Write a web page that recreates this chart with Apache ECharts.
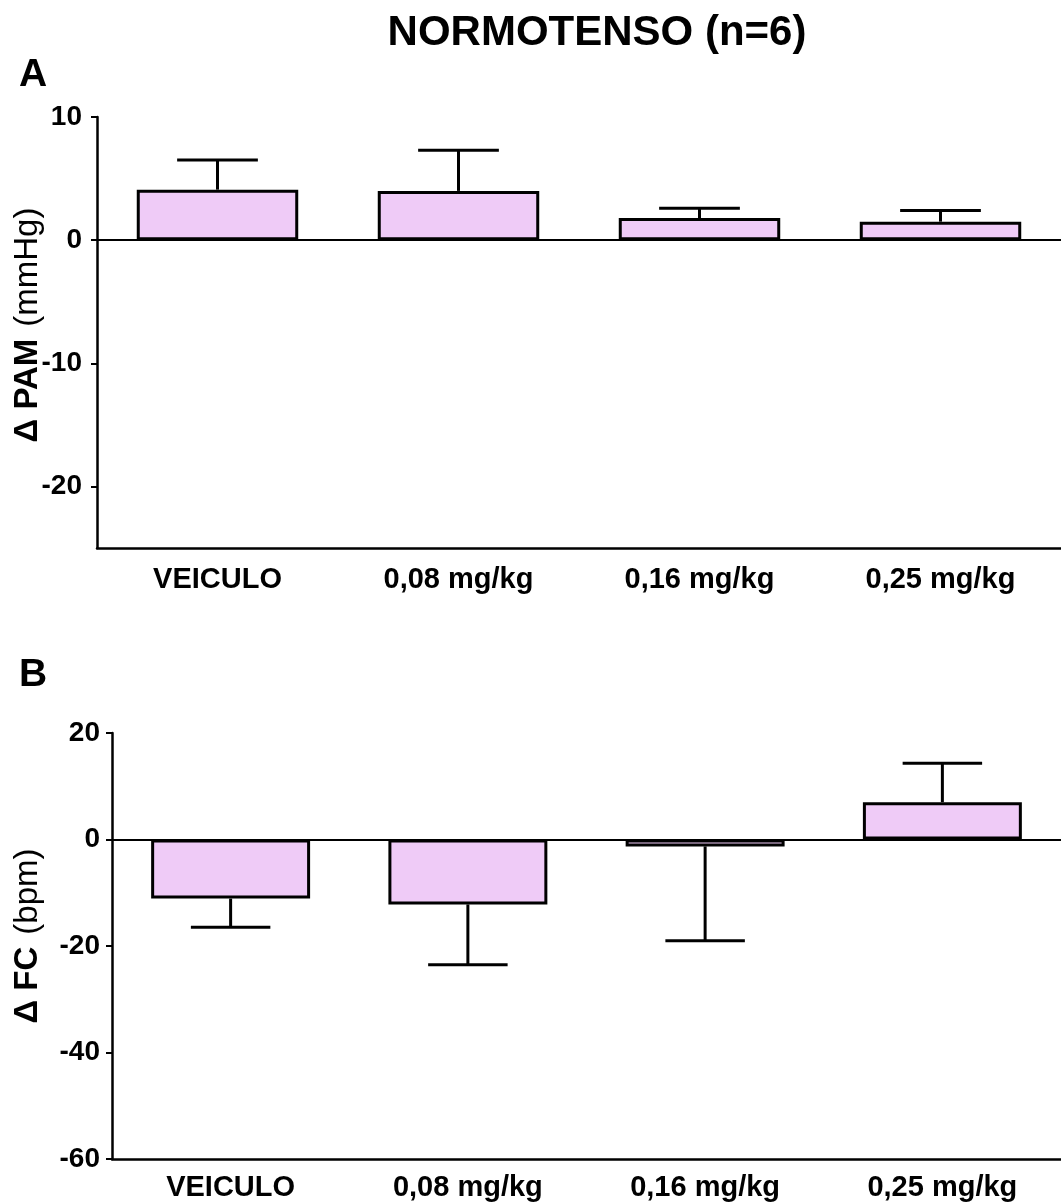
<!DOCTYPE html>
<html>
<head>
<meta charset="utf-8">
<script src="https://cdn.jsdelivr.net/npm/echarts@6/dist/echarts.min.js"></script>
<style>
html,body{margin:0;padding:0;background:#fff;}
#c{width:1061px;height:1204px;}
</style>
</head>
<body>
<div id="c"></div>
<script>
const categories = ['VEICULO', '0,08 mg/kg', '0,16 mg/kg', '0,25 mg/kg'];
const pamMean = [4.1, 4.0, 1.8, 1.5];
const pamSem = [2.4, 3.3, 0.8, 0.9];
const fcMean = [-11.1, -12.2, -1.3, 7.0];
const fcSem = [5.4, 11.3, 17.7, 7.3];
const pamTicks = [-20, -10, 0, 10];
const fcTicks = [-60, -40, -20, 0, 20];

const FONT = '"Liberation Sans", Arial, sans-serif';
const FILL = '#EFCBF7';

const chart = echarts.init(document.getElementById('c'), null, {renderer: 'canvas'});

function errSeries(idx, means, sems) {
  return {
    type: 'custom',
    xAxisIndex: idx, yAxisIndex: idx,
    z: 5,
    data: means.map((m, i) => [i, m, m >= 0 ? m + sems[i] : m - sems[i]]),
    renderItem: function (params, api) {
      const x = api.value(0);
      const p0 = api.coord([x, api.value(1)]);
      const p1 = api.coord([x, api.value(2)]);
      const bw = api.size([1, 0])[0] * 0.67;
      const half = bw / 4;
      const st = {stroke: '#000', lineWidth: 3};
      return {
        type: 'group',
        children: [
          {type: 'line', shape: {x1: p0[0], y1: p0[1], x2: p1[0], y2: p1[1]}, style: st},
          {type: 'line', shape: {x1: p1[0] - half, y1: p1[1], x2: p1[0] + half, y2: p1[1]}, style: st}
        ]
      };
    }
  };
}

function barSeries(idx, means) {
  return {
    type: 'bar',
    xAxisIndex: idx, yAxisIndex: idx,
    barWidth: '67%',
    data: means,
    itemStyle: {color: FILL, borderColor: '#000', borderWidth: 3},
    z: 3,
    markLine: {
      silent: true,
      symbol: 'none',
      label: {show: false},
      lineStyle: {color: '#000', width: 2, type: 'solid'},
      data: [{yAxis: 0}],
      z: 4
    }
  };
}

function xAxis(idx, margin) {
  return {
    type: 'category',
    gridIndex: idx,
    data: categories,
    position: 'bottom',
    axisLine: {onZero: false, lineStyle: {color: '#000', width: 2.5}},
    axisTick: {alignWithLabel: true, length: 6, lineStyle: {color: '#000', width: 2}},
    axisLabel: {color: '#000', fontFamily: FONT, fontWeight: 'bold', fontSize: 29, margin: margin},
    splitLine: {show: false}
  };
}

function yAxis(idx, min, max, ticks, margin) {
  return {
    type: 'value',
    gridIndex: idx,
    min: min, max: max,
    axisLine: {show: true, onZero: false, lineStyle: {color: '#000', width: 2.5}},
    axisTick: {show: true, length: 6, customValues: ticks, lineStyle: {color: '#000', width: 2}},
    axisLabel: {color: '#000', fontFamily: FONT, fontWeight: 'bold', fontSize: 28, margin: margin, customValues: ticks},
    splitLine: {show: false}
  };
}

function axisTitle(x, y, bold, normal) {
  return {
    type: 'text',
    x: x, y: y,
    rotation: Math.PI / 2,
    style: {
      text: '{b|' + bold + '}{n|' + normal + '}',
      align: 'center',
      verticalAlign: 'middle',
      rich: {
        b: {fontFamily: FONT, fontWeight: 'bold', fontSize: 33, fill: '#000', padding: [0, 12, 0, 0]},
        n: {fontFamily: FONT, fontWeight: 'normal', fontSize: 33, fill: '#000'}
      }
    }
  };
}

const option = {
  backgroundColor: '#fff',
  animation: false,
  grid: [
    {left: 97, top: 117, width: 971, height: 431},
    {left: 112, top: 733, width: 957, height: 426}
  ],
  xAxis: [xAxis(0, 17), xAxis(1, 14)],
  yAxis: [
    yAxis(0, -25, 10, pamTicks, 15),
    yAxis(1, -60, 20, fcTicks, 12)
  ],
  graphic: [
    {type: 'text', x: 597, y: 33, style: {text: 'NORMOTENSO (n=6)', font: 'bold 42px ' + FONT, fill: '#000', align: 'center', verticalAlign: 'middle'}},
    {type: 'text', x: 33, y: 75, style: {text: 'A', font: 'bold 39px ' + FONT, fill: '#000', align: 'center', verticalAlign: 'middle'}},
    {type: 'text', x: 33, y: 675, style: {text: 'B', font: 'bold 39px ' + FONT, fill: '#000', align: 'center', verticalAlign: 'middle'}},
    axisTitle(28, 325, 'Δ PAM', '(mmHg)'),
    axisTitle(28, 936, 'Δ FC', '(bpm)')
  ],
  series: [
    barSeries(0, pamMean),
    errSeries(0, pamMean, pamSem),
    barSeries(1, fcMean),
    errSeries(1, fcMean, fcSem)
  ]
};
chart.setOption(option);
</script>
</body>
</html>
